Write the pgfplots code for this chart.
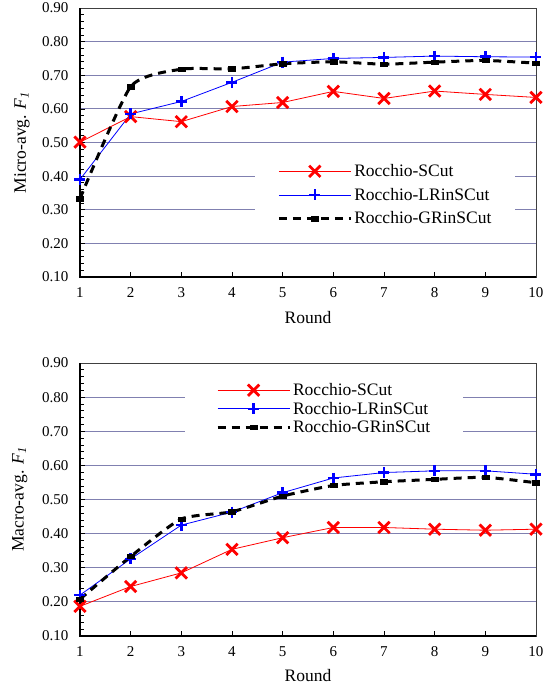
\documentclass[border=0pt]{standalone}
\usepackage{fontspec}
\setmainfont{Liberation Serif}
\usepackage{pgfplots}
\pgfplotsset{compat=1.18}
\definecolor{gridc}{RGB}{128,128,176}

\pgfplotsset{
  roundax/.style={
    scale only axis, width=456pt,
    xmin=1, xmax=10, ymin=0.1, ymax=0.9,
    xtick={1,2,3,4,5,6,7,8,9,10},
    ytick={0.1,0.2,0.3,0.4,0.5,0.6,0.7,0.8,0.9},
    minor y tick num=4,
    xtick pos=bottom, ytick pos=left,
    tick align=inside,
    major tick length=5pt, minor tick length=4pt,
    tick style={black, line width=0.7pt},
    ymajorgrids, grid style={gridc, line width=0.9pt},
    axis line style={black!75, line width=0.7pt},
    yticklabel style={/pgf/number format/fixed, /pgf/number format/fixed zerofill,
      /pgf/number format/precision=2, /pgf/number format/assume math mode=true, xshift=-8pt},
    xticklabel style={/pgf/number format/assume math mode=true, yshift=-7pt},
    tick label style={font=\fontsize{15}{18}\selectfont},
    label style={font=\fontsize{17.5}{20}\selectfont},
    xlabel={Round},
    clip=false,
    legend cell align=left,
    legend style={draw=none, fill=white, font=\fontsize{17.5}{20}\selectfont, anchor=west},
    legend image code/.code={\draw[mark repeat=2, mark phase=2, ##1] plot coordinates {(0pt,0pt) (36pt,0pt) (72pt,0pt)};},
  },
  scut/.style={red, line width=0.8pt, mark=x, mark size=8pt, mark options={solid, line width=2.8pt}},
  lrin/.style={blue, line width=0.8pt, mark=+, mark size=5.5pt, mark options={solid, line width=2.6pt}},
  grin/.style={black, line width=3pt, dash pattern=on 8pt off 6pt, mark=square*, mark size=2.2pt, mark options={solid, line width=0.5pt, xscale=1.6}, smooth, tension=0.35},
}

\begin{document}
\begin{tikzpicture}
\path[use as bounding box] (0pt,0pt) rectangle (549pt,686pt);

% micro-averaged
\begin{axis}[roundax, at={(80pt,409pt)}, anchor=south west, height=269pt,
  ylabel={Micro-avg. \textit{F}\textsubscript{\textit{1}}},
  xlabel style={at={(axis description cs:0.5,-0.152)}, anchor=center},
  ylabel style={at={(axis description cs:-0.127,0.5)}, anchor=center},
  legend style={at={(axis description cs:0.384,0.305)}, inner xsep=22pt, inner ysep=6pt, row sep=6pt}]
\addplot[scut] coordinates {(1,0.501) (2,0.577) (3,0.562) (4,0.607) (5,0.619) (6,0.652) (7,0.631) (8,0.653) (9,0.643) (10,0.634)};
\addplot[lrin] coordinates {(1,0.390) (2,0.585) (3,0.622) (4,0.679) (5,0.739) (6,0.750) (7,0.753) (8,0.757) (9,0.755) (10,0.754)};
\addplot[grin] coordinates {(1,0.333) (2,0.666) (3,0.718) (4,0.719) (5,0.734) (6,0.740) (7,0.733) (8,0.739) (9,0.744) (10,0.736)};
\legend{Rocchio-SCut, Rocchio-LRinSCut, Rocchio-GRinSCut}
\draw[black, line width=1.6pt] (rel axis cs:0,1) -- (rel axis cs:0,0) -- (rel axis cs:1,0);
\end{axis}

% macro-averaged
\begin{axis}[roundax, at={(80pt,50pt)}, anchor=south west, height=273pt,
  ylabel={Macro-avg. \textit{F}\textsubscript{\textit{1}}},
  xlabel style={at={(axis description cs:0.5,-0.143)}, anchor=center},
  ylabel style={at={(axis description cs:-0.132,0.5)}, anchor=center},
  legend style={at={(axis description cs:0.23,0.832)}, inner xsep=31pt, inner ysep=6pt, row sep=1pt}]
\addplot[scut] coordinates {(1,0.187) (2,0.245) (3,0.285) (4,0.354) (5,0.388) (6,0.418) (7,0.418) (8,0.413) (9,0.410) (10,0.413)};
\addplot[lrin] coordinates {(1,0.220) (2,0.326) (3,0.425) (4,0.463) (5,0.520) (6,0.563) (7,0.579) (8,0.584) (9,0.584) (10,0.574)};
\addplot[grin] coordinates {(1,0.208) (2,0.333) (3,0.443) (4,0.464) (5,0.510) (6,0.541) (7,0.552) (8,0.559) (9,0.565) (10,0.549)};
\legend{Rocchio-SCut, Rocchio-LRinSCut, Rocchio-GRinSCut}
\draw[black, line width=1.6pt] (rel axis cs:0,1) -- (rel axis cs:0,0) -- (rel axis cs:1,0);
\end{axis}
\end{tikzpicture}
\end{document}
